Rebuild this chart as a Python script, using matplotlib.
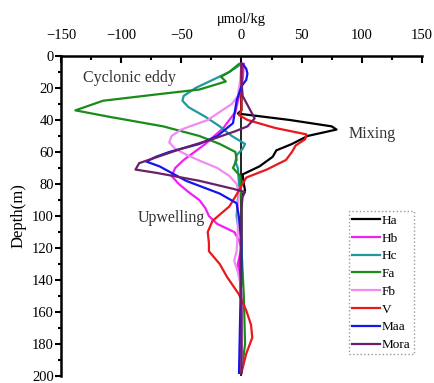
import matplotlib
matplotlib.use('Agg')
import matplotlib.pyplot as plt

plt.rcParams['font.family'] = ['Liberation Serif', 'DejaVu Serif']

# profiles: depth (m) and anomaly (umol/kg)
ha_d = [5, 20, 34, 36, 40, 44, 46, 50, 55, 59, 63, 69, 74, 80, 84, 88, 95, 120, 150, 180, 198]
ha_v = [0, 0, 0, -3, 40, 75, 79, 55, 42, 29, 26, 15, 1, 2, 3, 0, 0, 0, 0, 0, 0]

hb_d = [5, 15, 25, 35, 45, 55, 65, 70, 75, 80, 85, 90, 95, 100, 105, 110, 115, 120, 130, 140, 160, 180, 198]
hb_v = [2, 1, -2, -5, -15, -30, -48, -55, -58, -52, -44, -35, -30, -27, -20, -6, -2, 0, -3, -1, 0, 0, 0]

hc_d = [5, 10, 15, 20, 25, 28, 32, 38, 44, 50, 55, 58, 62, 66, 70, 80, 90, 100, 105, 110, 130, 160, 198]
hc_v = [0, -10, -24, -38, -48, -49, -44, -30, -18, -8, 3, 1, -4, -5, -3, -2, -3, -4, -3, -1, 0, 0, 0]

fa_d = [5, 10, 13, 16, 21, 24, 28, 34, 38, 44, 50, 55, 60, 65, 70, 75, 90, 120, 150, 180, 198]
fa_v = [-2, -10, -17, -13, -35, -70, -115, -138, -110, -65, -35, -18, -5, -4, -7, -1, 0, 0, 2, 3, 0]

fb_d = [5, 15, 25, 30, 35, 40, 46, 50, 54, 58, 62, 66, 70, 75, 80, 85, 95, 110, 122, 128, 135, 145, 170, 198]
fb_v = [0, -1, -3, -8, -18, -28, -50, -58, -60, -55, -45, -33, -20, -10, -4, -2, -3, -3, -4, -6, -3, 0, 0, 0]

v_d = [5, 20, 34, 37, 40, 45, 49, 52, 56, 60, 65, 71, 76, 84, 94, 103, 110, 117, 122, 130, 138, 149, 159, 168, 176, 186, 198]
v_v = [0, 0, 0, -2, 5, 28, 54, 53, 45, 42, 37, 21, 4, -2, -10, -24, -28, -27, -27, -18, -12, -2, 4, 8, 9, 4, 0]

maa_d = [5, 8, 11, 15, 19, 28, 42, 50, 55, 60, 63, 66, 69, 78, 86, 92, 101, 115, 130, 160, 198]
maa_v = [1, 4, 5, 4, 0, -4, -7, -20, -35, -60, -71, -79, -68, -46, -18, -4, -2, 0, 0, -1, -2]

mora_d = [5, 15, 25, 32, 39, 44, 47, 52, 58, 67, 71, 73, 78, 83, 85, 88, 95, 110, 130, 160, 198]
mora_v = [0, 0, 1, 6, 11, 5, -5, -24, -50, -85, -88, -71, -35, -7, 3, 1, 0, 0, -1, 0, 0]

names = ['Ha', 'Hb', 'Hc', 'Fa', 'Fb', 'V', 'Maa', 'Mora']
depths = [ha_d, hb_d, hc_d, fa_d, fb_d, v_d, maa_d, mora_d]
values = [ha_v, hb_v, hc_v, fa_v, fb_v, v_v, maa_v, mora_v]
colors = ['black', '#f020f0', '#1f9a9a', '#1a8c1a', '#f08cf0', '#e8181c', '#1414f0', '#6a1f6a']

fig = plt.figure(figsize=(4.35, 3.83), dpi=100)
ax = fig.add_axes([0.140, 0.018, 0.830, 0.836])

ax.axvline(0, color='black', lw=1.2, zorder=1)
for n, d, v, c in zip(names, depths, values, colors):
    ax.plot(v, d, color=c, lw=1.6, label=n)

ax.set_xlim(-150, 150)
ax.set_ylim(200, 0)
ax.xaxis.tick_top()
ax.xaxis.set_label_position('top')
ax.set_xticks([-150, -100, -50, 0, 50, 100, 150])
ax.set_xticks(range(-150, 151, 25), minor=True)
ax.set_yticks(range(0, 201, 20))
ax.set_yticks(range(0, 201, 10), minor=True)
ax.tick_params(axis='x', which='both', direction='in', labelsize=10.5, width=1.5, pad=10)
ax.tick_params(axis='x', which='major', length=5)
ax.tick_params(axis='x', which='minor', length=3)
ax.tick_params(axis='y', which='both', direction='out', labelsize=10.5, width=1.5, pad=1)
ax.tick_params(axis='y', which='major', length=4)
ax.tick_params(axis='y', which='minor', length=2)
for s in ['right', 'bottom']:
    ax.spines[s].set_visible(False)
ax.spines['top'].set_linewidth(1.8)
ax.spines['left'].set_linewidth(1.8)

ax.set_xlabel('μmol/kg', fontsize=10.5, labelpad=4)
ax.set_ylabel('Depth(m)', fontsize=12, labelpad=4)

ax.text(-93, 14, 'Cyclonic eddy', fontsize=11.5, ha='center', va='center', color='#333333')
ax.text(109, 49, 'Mixing', fontsize=11.5, ha='center', va='center', color='#333333')
ax.text(-58, 101, 'Upwelling', fontsize=11.5, ha='center', va='center', color='#333333')

leg = ax.legend(loc='upper right', bbox_to_anchor=(0.978, 0.515), fontsize=9.5,
                handlelength=2.1, handletextpad=0.15, labelspacing=0.42,
                borderpad=0.25, borderaxespad=0, fancybox=False, framealpha=1)
leg.get_frame().set_edgecolor('#999999')
leg.get_frame().set_linestyle(':')

fig.savefig('out.png', dpi=100)
